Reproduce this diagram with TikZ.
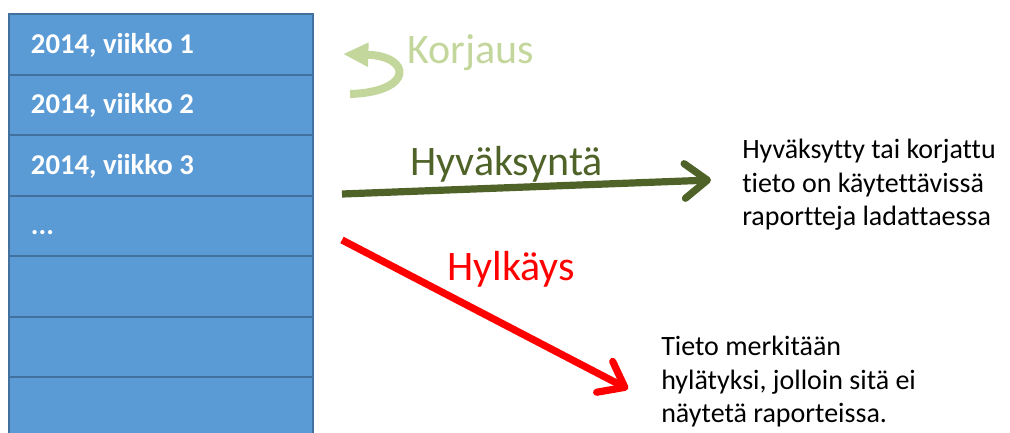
\documentclass[tikz,border=0pt]{standalone}
\usepackage{fontspec}
\setmainfont{Carlito}[Ligatures=NoCommon]
\usetikzlibrary{arrows.meta}

\definecolor{viikkosini}{HTML}{5B9BD5}
\definecolor{viikkoreuna}{HTML}{41719C}
\definecolor{hyvvihrea}{HTML}{4F6228}
\definecolor{korjvihrea}{HTML}{C3D69B}
\definecolor{hylpuna}{HTML}{FF0000}

\tikzset{
    viikko/.style={draw=viikkoreuna, line width=1.5pt, fill=viikkosini,
        anchor=north west, minimum width=228pt, minimum height=45.4pt,
        inner xsep=16.5pt, inner ysep=0pt, text width=195pt, align=flush left,
        text height=16pt, text depth=2.5pt,
        text=white, font=\bfseries\fontsize{21.5}{24}\selectfont},
    otsikko/.style={anchor=base west, inner sep=0pt,
        font=\fontsize{31.5}{36}\selectfont},
    selite/.style={anchor=north west, inner sep=0pt, align=left,
        font=\fontsize{21}{25}\selectfont},
    nuoli/.style={line width=5.4pt, -{Straight Barb[length=17pt, width=26pt, round]}}
}

\begin{document}
\begin{tikzpicture}[x=0.75pt, y=-0.75pt]
    \useasboundingbox (0,0) rectangle (1010,432);
    % Viikkosarake
    \foreach \i/\teksti in {1/{2014, viikko 1}, 2/{2014, viikko 2}, 3/{2014, viikko 3},
                            4/{...}, 5/{}, 6/{}, 7/{}}
        \node[viikko] (rivi\i) at (8, {13+(\i-1)*60.5}) {\teksti};

    % Korjaus
    \coordinate (korj-a) at (350,94);
    \coordinate (korj-b) at (343,54);
    \draw[korjvihrea, line width=6pt, -{Triangle[length=19pt, width=17pt]}]
        (korj-a) .. controls (414,92) and (412,56) .. (korj-b);
    \node[otsikko, korjvihrea] (korjaus) at (407,63) {Korjaus};

    % Hyväksyntä
    \coordinate (hyv-a) at (342,194);
    \coordinate (hyv-b) at (711,180);
    \draw[nuoli, hyvvihrea] (hyv-a) -- (hyv-b);
    \node[otsikko, hyvvihrea] (hyvaksynta) at (410,175) {Hyväksyntä};
    \node[selite] (hyvaksytty) at (742,139)
        {Hyväksytty tai korjattu\\tieto on käytettävissä\\raportteja ladattaessa};

    % Hylkäys
    \coordinate (hyl-a) at (342,240);
    \coordinate (hyl-b) at (628,389);
    \draw[nuoli, hylpuna] (hyl-a) -- (hyl-b);
    \node[otsikko, hylpuna] (hylkays) at (447,280) {Hylkäys};
    \node[selite] (hylatty) at (661,336)
        {Tieto merkitään\\hylätyksi, jolloin sitä ei\\näytetä raporteissa.};
\end{tikzpicture}
\end{document}
